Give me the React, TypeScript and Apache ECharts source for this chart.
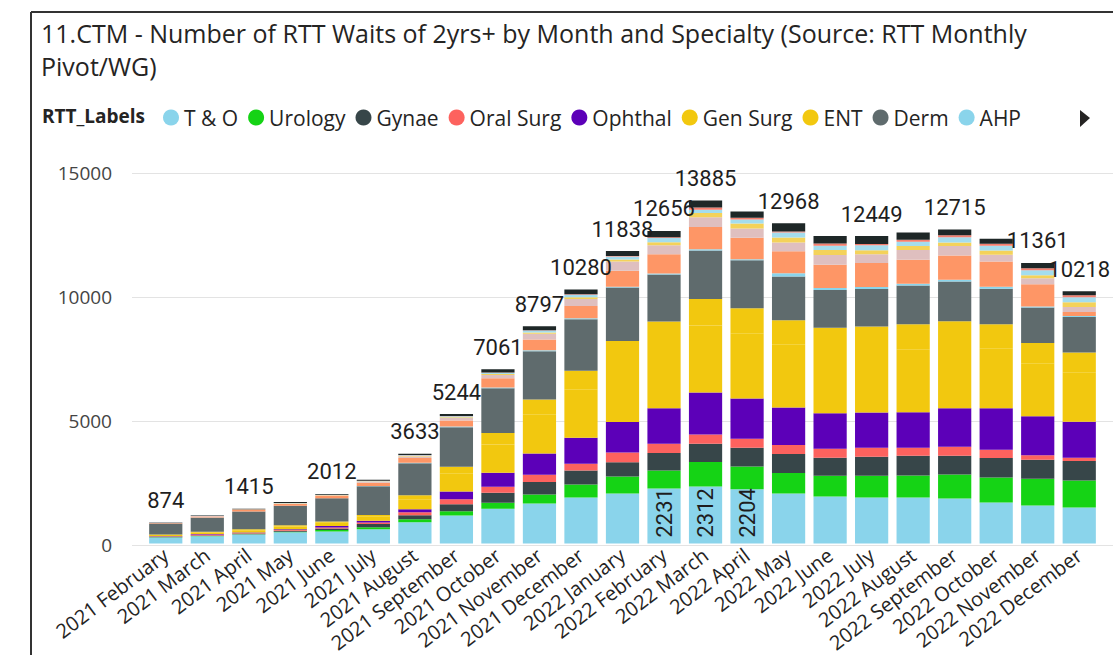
import React, { useEffect, useRef } from "react";
import * as echarts from "echarts";

const months = [
  "2021 February", "2021 March", "2021 April", "2021 May", "2021 June", "2021 July",
  "2021 August", "2021 September", "2021 October", "2021 November", "2021 December",
  "2022 January", "2022 February", "2022 March", "2022 April", "2022 May", "2022 June",
  "2022 July", "2022 August", "2022 September", "2022 October", "2022 November", "2022 December",
];

const tAndO = [245, 300, 370, 455, 490, 580, 865, 1135, 1412, 1620, 1870, 2030, 2231, 2312, 2204, 2025, 1905, 1865, 1865, 1827, 1665, 1540, 1464];
const urology = [8, 10, 12, 20, 65, 80, 120, 175, 242, 365, 525, 685, 725, 990, 914, 830, 845, 885, 887, 967, 1008, 1085, 1088];
const gynae = [12, 15, 25, 40, 55, 130, 160, 280, 403, 510, 565, 580, 710, 735, 766, 775, 725, 765, 805, 766, 793, 765, 793];
const oralSurg = [10, 45, 20, 35, 45, 65, 120, 200, 242, 296, 270, 390, 375, 375, 363, 360, 363, 360, 322, 363, 336, 188, 134];
const ophthal = [22, 20, 25, 35, 55, 65, 130, 320, 564, 860, 1050, 1236, 1435, 1700, 1625, 1515, 1437, 1435, 1437, 1558, 1679, 1580, 1451];
const genSurg = [50, 60, 90, 110, 130, 170, 400, 720, 1150, 1560, 1950, 2350, 2520, 2720, 2620, 2540, 2480, 2490, 2550, 2520, 2430, 2120, 2005];
const ent = [20, 30, 40, 45, 50, 65, 160, 285, 465, 625, 770, 930, 990, 1070, 1034, 1000, 984, 985, 1010, 999, 969, 845, 803];
const derm = [445, 570, 715, 790, 945, 1170, 1296, 1595, 1810, 1950, 2080, 2160, 1910, 1965, 1945, 1770, 1530, 1515, 1570, 1612, 1437, 1435, 1437];
const ahp = [5, 5, 5, 5, 5, 10, 25, 30, 30, 35, 40, 40, 40, 50, 40, 130, 80, 90, 67, 67, 81, 40, 40];
const other1 = [12, 45, 55, 70, 95, 130, 185, 240, 370, 440, 495, 640, 775, 895, 870, 885, 940, 965, 980, 981, 1020, 900, 161];
const other2 = [20, 15, 15, 20, 25, 45, 60, 107, 134, 228, 282, 376, 360, 400, 376, 360, 390, 360, 390, 390, 270, 242, 202];
const other3 = [5, 5, 5, 5, 5, 10, 20, 30, 40, 60, 75, 81, 130, 170, 200, 200, 200, 160, 160, 134, 175, 121, 188];
const other4 = [15, 5, 8, 10, 8, 15, 30, 35, 50, 75, 100, 121, 170, 130, 160, 200, 175, 200, 175, 215, 188, 200, 202];
const other5 = [0, 5, 5, 5, 4, 5, 10, 10, 10, 13, 18, 20, 25, 90, 67, 40, 90, 54, 80, 81, 81, 80, 81];
const other6 = [5, 20, 25, 35, 35, 40, 52, 82, 139, 160, 190, 199, 260, 283, 260, 338, 306, 320, 296, 235, 202, 220, 169];

// months whose total is labelled above the bar, and months whose T & O value is labelled inside
const shownTotalIdx = [0, 2, 4, 6, 7, 8, 9, 10, 11, 12, 13, 15, 17, 19, 21, 22];
const shownTOIdx = [12, 13, 14];

const legendNames = ["T & O", "Urology", "Gynae", "Oral Surg", "Ophthal", "Gen Surg", "ENT", "Derm", "AHP"];

const specialties = [
  { name: "T & O", data: tAndO, color: "#8AD4EB" },
  { name: "Urology", data: urology, color: "#15D315" },
  { name: "Gynae", data: gynae, color: "#374649" },
  { name: "Oral Surg", data: oralSurg, color: "#FD625E" },
  { name: "Ophthal", data: ophthal, color: "#5C00B8" },
  { name: "Gen Surg", data: genSurg, color: "#F2C80F" },
  { name: "ENT", data: ent, color: "#F2C80F" },
  { name: "Derm", data: derm, color: "#5F6B6D" },
  { name: "AHP", data: ahp, color: "#8AD4EB" },
  { name: "Other 1", data: other1, color: "#FE9666" },
  { name: "Other 2", data: other2, color: "#DFBFBF" },
  { name: "Other 3", data: other3, color: "#F4D25A" },
  { name: "Other 4", data: other4, color: "#A4DDEE" },
  { name: "Other 5", data: other5, color: "#F47E6E" },
  { name: "Other 6", data: other6, color: "#1E2727" },
];

export default function App() {
  const ref = useRef<HTMLDivElement>(null);

  useEffect(() => {
    document.body.style.margin = "0";
    const chart = echarts.init(ref.current as HTMLDivElement, null, { renderer: "svg" });
    const totals = months.map((_, i) => specialties.reduce((s, sp) => s + sp.data[i], 0));
    const dataLabelFont = { fontFamily: "Roboto", fontSize: 22, color: "#1e1e1e" };

    const barSeries = specialties.map((sp, si) => ({
      name: sp.name,
      type: "bar",
      stack: "total",
      xAxisIndex: 0,
      yAxisIndex: 0,
      barCategoryGap: "20%",
      itemStyle: { color: sp.color },
      data:
        si === 0
          ? sp.data.map((v, i) =>
              shownTOIdx.includes(i)
                ? {
                    value: v,
                    label: {
                      show: true,
                      position: "insideBottom",
                      rotate: 90,
                      align: "left",
                      verticalAlign: "middle",
                      distance: 6,
                      ...dataLabelFont,
                    },
                  }
                : v
            )
          : sp.data,
    }));

    const totalSeries = {
      name: "Total",
      type: "bar",
      stack: "total",
      xAxisIndex: 0,
      yAxisIndex: 0,
      barCategoryGap: "20%",
      itemStyle: { color: "transparent" },
      data: totals.map((_, i) => ({ value: 0, label: { show: shownTotalIdx.includes(i) } })),
      label: {
        position: "top",
        distance: 11,
        formatter: (p: any) => String(totals[p.dataIndex]),
        ...dataLabelFont,
      },
    };

    const option = {
      animation: false,
      backgroundColor: "#ffffff",
      title: {
        text: "11.CTM - Number of RTT Waits of 2yrs+ by Month and Specialty (Source: RTT Monthly\nPivot/WG)",
        left: 41,
        top: 16,
        padding: 0,
        textStyle: { fontFamily: "Open Sans", fontSize: 25, fontWeight: "normal", color: "#252423", lineHeight: 33 },
      },
      legend: {
        data: legendNames,
        left: 163,
        top: 107,
        padding: 0,
        icon: "circle",
        itemWidth: 16,
        itemHeight: 16,
        itemGap: 10,
        textStyle: { fontFamily: "Open Sans", fontSize: 21, color: "#252423" },
      },
      graphic: [
        { type: "line", shape: { x1: 31, y1: 12, x2: 1113, y2: 12 }, style: { stroke: "#333333", lineWidth: 2 } },
        { type: "line", shape: { x1: 31, y1: 12, x2: 31, y2: 655 }, style: { stroke: "#333333", lineWidth: 2 } },
        {
          type: "text",
          left: 42,
          top: 106,
          style: { text: "RTT_Labels", font: "bold 19px 'Open Sans'", fill: "#252423" },
        },
        {
          type: "polygon",
          shape: { points: [[1080, 110], [1090, 118], [1080, 127]] },
          style: { fill: "#252423" },
        },
      ],
      grid: [
        { left: 145, right: 13, top: 173, bottom: 110 },
        { left: 132, right: 0, top: 173, bottom: 110 },
      ],
      xAxis: [
        {
          type: "category",
          gridIndex: 0,
          data: months,
          axisLine: { show: false },
          axisTick: { show: false },
          axisLabel: { rotate: 37, interval: 0, margin: 9, fontFamily: "Open Sans", fontSize: 20, color: "#252423" },
        },
        { type: "category", gridIndex: 1, data: months, show: false },
      ],
      yAxis: [
        { type: "value", gridIndex: 0, min: 0, max: 15000, interval: 5000, show: false },
        {
          type: "value",
          gridIndex: 1,
          min: 0,
          max: 15000,
          interval: 5000,
          axisLine: { show: false },
          axisTick: { show: false },
          splitLine: { lineStyle: { color: "#E3E3E3", width: 1 } },
          axisLabel: { formatter: (v: number) => String(v), margin: 20, fontFamily: "Open Sans", fontSize: 19, color: "#444444" },
        },
      ],
      series: [...barSeries, totalSeries],
    };

    chart.setOption(option as any);
    return () => chart.dispose();
  }, []);

  return <div ref={ref} style={{ width: 1113, height: 655 }} />;
}
